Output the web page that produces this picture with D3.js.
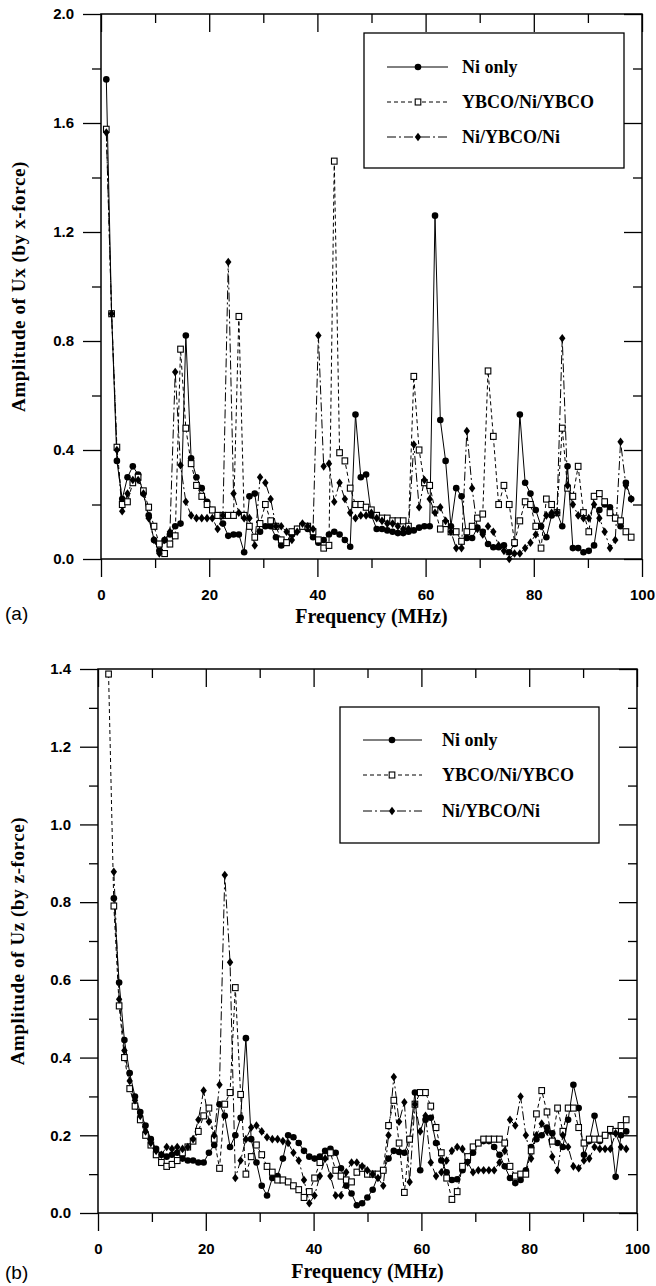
<!DOCTYPE html>
<html><head><meta charset="utf-8">
<script src="https://cdn.jsdelivr.net/npm/d3@7/dist/d3.min.js"></script>
<style>body{margin:0;background:#fff} svg{display:block}</style>
</head><body>
<svg id="c" width="656" height="1286"></svg>
<script>
// Frequency bins (MHz)
const freq = [0.98,1.96,2.94,3.92,4.9,5.88,6.86,7.84,8.82,9.8,
10.78,11.76,12.74,13.72,14.7,15.68,16.66,17.64,18.62,19.6,
20.58,21.56,22.54,23.52,24.5,25.48,26.46,27.44,28.42,29.4,
30.38,31.36,32.34,33.32,34.3,35.28,36.26,37.24,38.22,39.2,
40.18,41.16,42.14,43.12,44.1,45.08,46.06,47.04,48.02,49,
49.98,50.96,51.94,52.92,53.9,54.88,55.86,56.84,57.82,58.8,
59.78,60.76,61.74,62.72,63.7,64.68,65.66,66.64,67.62,68.6,
69.58,70.56,71.54,72.52,73.5,74.48,75.46,76.44,77.42,78.4,
79.38,80.36,81.34,82.32,83.3,84.28,85.26,86.24,87.22,88.2,
89.18,90.16,91.14,92.12,93.1,94.08,95.06,96.04,97.02,98];

const seriesNames = ["Ni only","YBCO/Ni/YBCO","Ni/YBCO/Ni"];

// Panel (a): amplitude of Ux (by x-force)
const aNi = [1.76,0.90,0.36,0.22,0.30,0.34,0.31,0.24,0.16,0.07,
0.03,0.07,0.09,0.12,0.13,0.82,0.37,0.30,0.26,0.21,
0.18,0.16,0.13,0.085,0.09,0.09,0.025,0.23,0.24,0.10,
0.12,0.12,0.08,0.05,0.06,0.09,0.11,0.12,0.11,0.08,
0.06,0.07,0.09,0.10,0.09,0.07,0.045,0.53,0.30,0.31,
0.16,0.11,0.11,0.105,0.10,0.095,0.095,0.10,0.105,0.115,
0.12,0.12,1.26,0.51,0.36,0.12,0.26,0.23,0.077,0.077,
0.115,0.10,0.055,0.043,0.043,0.05,0.025,0.055,0.53,0.28,
0.24,0.18,0.12,0.08,0.16,0.17,0.12,0.34,0.04,0.04,
0.025,0.03,0.05,0.18,0.20,0.19,0.15,0.12,0.28,0.22];
const aYBCO = [1.577,0.90,0.41,0.20,0.21,0.28,0.30,0.25,0.19,0.12,
0.055,0.02,0.055,0.085,0.77,0.48,0.35,0.27,0.23,0.20,
0.18,0.16,0.16,0.16,0.16,0.89,0.16,0.12,0.08,0.13,
0.20,0.14,0.12,0.07,0.06,0.10,0.11,0.12,0.12,0.10,
0.07,0.04,0.05,1.46,0.39,0.36,0.26,0.20,0.20,0.19,
0.18,0.16,0.15,0.15,0.14,0.14,0.14,0.12,0.67,0.40,
0.28,0.27,0.18,0.11,0.13,0.10,0.10,0.065,0.10,0.12,
0.15,0.165,0.69,0.45,0.20,0.27,0.20,0.06,0.14,0.21,
0.20,0.12,0.04,0.22,0.20,0.17,0.48,0.26,0.23,0.34,
0.17,0.10,0.23,0.24,0.21,0.17,0.15,0.14,0.10,0.08];
const aNYN = [1.565,0.90,0.40,0.175,0.24,0.29,0.29,0.24,0.15,0.07,
0.02,0.07,0.10,0.686,0.344,0.21,0.16,0.15,0.15,0.15,
0.15,0.11,0.16,1.09,0.24,0.17,0.15,0.15,0.05,0.30,
0.28,0.22,0.12,0.12,0.10,0.07,0.10,0.13,0.12,0.11,
0.82,0.34,0.35,0.21,0.28,0.22,0.17,0.15,0.16,0.16,
0.17,0.15,0.14,0.13,0.13,0.12,0.11,0.11,0.42,0.19,
0.29,0.22,0.17,0.19,0.14,0.10,0.04,0.04,0.47,0.26,
0.11,0.09,0.12,0.10,0.05,0.03,0.00,0.02,0.02,0.04,
0.06,0.09,0.12,0.16,0.17,0.17,0.81,0.27,0.20,0.16,
0.15,0.15,0.20,0.15,0.10,0.04,0.07,0.43,0.27,0.22];

// Panel (b): amplitude of Uz (by z-force)
const bNi = [null,null,0.81,0.593,0.445,0.36,0.30,0.26,0.225,0.19,
0.165,0.15,0.145,0.15,0.155,0.14,0.135,0.135,0.13,0.13,
0.155,0.175,0.28,0.25,0.17,0.20,0.245,0.45,0.19,0.13,
0.07,0.045,0.09,0.095,0.14,0.20,0.195,0.18,0.16,0.145,
0.14,0.145,0.16,0.165,0.155,0.115,0.07,0.05,0.02,0.025,
0.04,0.06,0.095,0.11,0.14,0.16,0.157,0.155,0.19,0.31,
0.11,0.24,0.245,0.18,0.135,0.105,0.085,0.087,0.11,0.135,
0.155,0.18,0.185,0.185,0.17,0.15,0.12,0.09,0.077,0.085,
0.11,0.17,0.19,0.20,0.22,0.205,0.18,0.17,0.24,0.33,
0.27,0.15,0.185,0.25,0.185,0.20,0.21,0.093,0.20,0.21];
const bYBCO = [null,1.387,0.79,0.533,0.40,0.32,0.275,0.24,0.20,0.175,
0.15,0.13,0.12,0.125,0.135,0.155,0.17,0.185,0.21,0.25,
0.27,0.19,0.115,0.28,0.31,0.58,0.305,0.10,0.145,0.175,
0.15,0.12,0.105,0.085,0.085,0.08,0.07,0.06,0.04,0.055,
0.09,0.13,0.145,0.155,0.11,0.095,0.085,0.08,0.105,0.115,
0.10,0.10,0.10,0.11,0.225,0.29,0.18,0.053,0.19,0.28,
0.31,0.31,0.275,0.22,0.155,0.09,0.035,0.055,0.12,0.145,
0.17,0.18,0.19,0.19,0.19,0.19,0.18,0.12,0.095,0.10,
0.10,0.16,0.255,0.315,0.26,0.185,0.27,0.21,0.27,0.27,
0.22,0.18,0.19,0.19,0.19,0.20,0.215,0.21,0.225,0.24];
const bNYN = [null,null,0.878,0.55,0.418,0.34,0.29,0.25,0.21,0.18,
0.16,0.15,0.17,0.165,0.17,0.165,0.17,0.19,0.24,0.315,
0.235,0.20,0.33,0.87,0.645,0.09,0.135,0.19,0.22,0.225,
0.21,0.195,0.19,0.19,0.185,0.18,0.155,0.135,0.085,0.025,
0.045,0.095,0.14,0.095,0.045,0.045,0.105,0.13,0.13,0.12,
0.11,0.10,0.09,0.07,0.20,0.35,0.235,0.285,0.08,0.28,
0.21,0.25,0.13,0.095,0.105,0.135,0.16,0.17,0.165,0.13,
0.105,0.11,0.11,0.11,0.11,0.13,0.16,0.24,0.225,0.30,
0.20,0.14,0.20,0.23,0.21,0.145,0.11,0.20,0.17,0.12,
0.115,0.135,0.14,0.17,0.165,0.165,0.165,0.205,0.17,0.165];

const xMajor = [0,20,40,60,80,100];
const xMinor = [10,30,50,70,90];
const aYMajor = [0,0.4,0.8,1.2,1.6,2.0];
const aYMinor = [0.2,0.6,1.0,1.4,1.8];
const bYMajor = [0,0.2,0.4,0.6,0.8,1.0,1.2,1.4];
const bYMinor = [0.1,0.3,0.5,0.7,0.9,1.1,1.3];

const svg = d3.select('#c');
const fmtY = d3.format('.1f');
const styles = [
  {dash:null, marker:'circle'},
  {dash:'4,3', marker:'square'},
  {dash:'9,3,2,3', marker:'diamond'}
];

function drawMarker(g, type, x, y){
  if(type==='circle'){
    g.append('circle').attr('cx',x).attr('cy',y).attr('r',3.3).attr('fill','#000');
  } else if(type==='square'){
    g.append('rect').attr('x',x-2.8).attr('y',y-3).attr('width',5.6).attr('height',6)
      .attr('fill','#fff').attr('stroke','#000').attr('stroke-width',1.1);
  } else {
    g.append('path').attr('d',`M${x},${y-4.3}L${x+3.2},${y}L${x},${y+4.3}L${x-3.2},${y}Z`).attr('fill','#000');
  }
}

function panel(cfg){
  const x = d3.scaleLinear().domain([0,100]).range(cfg.xr);
  const y = d3.scaleLinear().domain(cfg.yd).range(cfg.yr);
  const g = svg.append('g');
  const tickFont = g => g.selectAll('text').attr('font-family','Liberation Sans, Arial, sans-serif')
      .attr('font-weight','bold').attr('font-size','15px').attr('fill','#000');
  const clean = s => { s.select('.domain').remove(); s.selectAll('line').attr('stroke','#000').attr('stroke-width',1.3); };

  // bottom
  g.append('g').attr('transform',`translate(0,${cfg.yr[0]})`)
    .call(d3.axisBottom(x).tickValues(xMajor).tickSize(18).tickPadding(12).tickFormat(d3.format('d')))
    .call(clean).call(tickFont);
  g.append('g').attr('transform',`translate(0,${cfg.yr[0]})`)
    .call(d3.axisBottom(x).tickValues(xMinor).tickSize(9).tickFormat(''))
    .call(clean);
  // top (inward)
  g.append('g').attr('transform',`translate(0,${cfg.yr[1]})`)
    .call(d3.axisTop(x).tickValues(xMajor).tickSize(-18).tickFormat(''))
    .call(clean);
  g.append('g').attr('transform',`translate(0,${cfg.yr[1]})`)
    .call(d3.axisTop(x).tickValues(xMinor).tickSize(-9).tickFormat(''))
    .call(clean);
  // left
  g.append('g').attr('transform',`translate(${cfg.xr[0]},0)`)
    .call(d3.axisLeft(y).tickValues(cfg.yMajor).tickSize(18).tickPadding(9).tickFormat(fmtY))
    .call(clean).call(tickFont);
  g.append('g').attr('transform',`translate(${cfg.xr[0]},0)`)
    .call(d3.axisLeft(y).tickValues(cfg.yMinor).tickSize(9).tickFormat(''))
    .call(clean);
  // right (inward)
  g.append('g').attr('transform',`translate(${cfg.xr[1]},0)`)
    .call(d3.axisRight(y).tickValues(cfg.yMajor).tickSize(-18).tickFormat(''))
    .call(clean);
  g.append('g').attr('transform',`translate(${cfg.xr[1]},0)`)
    .call(d3.axisRight(y).tickValues(cfg.yMinor).tickSize(-9).tickFormat(''))
    .call(clean);
  // frame
  g.append('rect').attr('x',cfg.xr[0]).attr('y',cfg.yr[1])
    .attr('width',cfg.xr[1]-cfg.xr[0]).attr('height',cfg.yr[0]-cfg.yr[1])
    .attr('fill','none').attr('stroke','#000').attr('stroke-width',1.5);

  // series
  cfg.series.forEach((vals,i)=>{
    const pts = freq.map((f,j)=>({f, v: vals[j]})).filter(d=>d.v!=null);
    const line = d3.line().x(d=>x(d.f)).y(d=>y(d.v));
    g.append('path').datum(pts).attr('d',line).attr('fill','none')
      .attr('stroke','#000').attr('stroke-width',1)
      .attr('stroke-dasharray',styles[i].dash);
  });
  cfg.series.forEach((vals,i)=>{
    const mg = g.append('g');
    freq.forEach((f,j)=>{ if(vals[j]!=null) drawMarker(mg, styles[i].marker, x(f), y(vals[j])); });
  });

  // legend
  const L = cfg.legend;
  g.append('rect').attr('x',L.x).attr('y',L.y).attr('width',L.w).attr('height',L.h)
    .attr('fill','#fff').attr('stroke','#000').attr('stroke-width',1.3);
  seriesNames.forEach((name,i)=>{
    const yy = L.rows[i];
    g.append('line').attr('x1',L.lx1).attr('x2',L.lx2).attr('y1',yy).attr('y2',yy)
      .attr('stroke','#000').attr('stroke-width',1).attr('stroke-dasharray',styles[i].dash);
    drawMarker(g, styles[i].marker, L.mx, yy);
    g.append('text').attr('x',L.tx).attr('y',yy+6).text(name)
      .attr('font-family','Liberation Serif, Times New Roman, serif').attr('font-weight','bold')
      .attr('font-size','18px');
  });

  // titles
  g.append('text').attr('x',(cfg.xr[0]+cfg.xr[1])/2).attr('y',cfg.xtY).attr('text-anchor','middle')
    .attr('font-family','Liberation Serif, Times New Roman, serif').attr('font-weight','bold')
    .attr('font-size','20px').text('Frequency (MHz)');
  g.append('text').attr('transform',`translate(${cfg.ytX},${(cfg.yr[0]+cfg.yr[1])/2}) rotate(-90)`)
    .attr('text-anchor','middle')
    .attr('font-family','Liberation Serif, Times New Roman, serif').attr('font-weight','bold')
    .attr('font-size','19px').attr('letter-spacing','0.6px').text(cfg.ytitle);
  g.append('text').attr('x',5).attr('y',cfg.tagY).text(cfg.tag)
    .attr('font-family','Liberation Sans, Arial, sans-serif').attr('font-size','19px');
}

panel({
  xr:[101,642], yd:[0,2], yr:[559,14], yMajor:aYMajor, yMinor:aYMinor,
  series:[aNi,aYBCO,aNYN],
  legend:{x:364,y:33,w:260,h:135,rows:[67,102,137],lx1:387,lx2:448,mx:418,tx:462},
  xtY:623, ytX:25, ytitle:'Amplitude of Ux (by x-force)', tag:'(a)', tagY:620
});
panel({
  xr:[98,637], yd:[0,1.4], yr:[1213,669], yMajor:bYMajor, yMinor:bYMinor,
  series:[bNi,bYBCO,bNYN],
  legend:{x:340,y:707,w:259,h:136,rows:[740,775,811],lx1:363,lx2:422,mx:392,tx:442},
  xtY:1278, ytX:24, ytitle:'Amplitude of Uz (by z-force)', tag:'(b)', tagY:1279
});
</script>
</body></html>
